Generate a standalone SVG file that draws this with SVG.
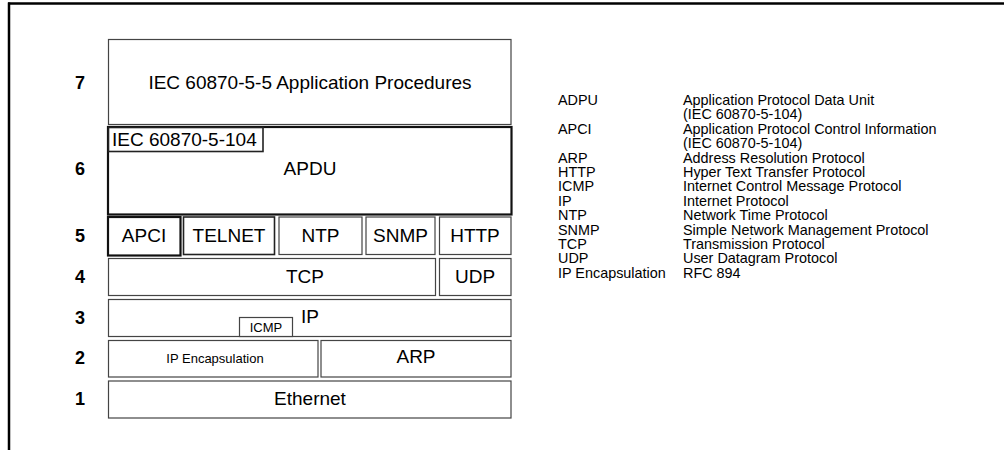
<svg xmlns="http://www.w3.org/2000/svg" width="1004" height="450" viewBox="0 0 1004 450">
<style>
text{font-family:"Liberation Sans",Arial,sans-serif;fill:#000}
.big{font-size:19px;text-anchor:middle}
.num{font-size:18px;font-weight:bold;text-anchor:middle}
.leg{font-size:14.4px}
.box{fill:#fff;stroke:#444;stroke-width:1.2}
.thick{fill:#fff;stroke:#111;stroke-width:2.2}
.mid{fill:#fff;stroke:#222;stroke-width:1.6}
</style>
<rect width="1004" height="450" fill="#fff"/>
<g id="frame">
<line x1="8" y1="3.5" x2="1004" y2="3.5" stroke="#000" stroke-width="2.5"/>
<line x1="9" y1="2.5" x2="9" y2="450" stroke="#000" stroke-width="2.5"/>
</g>
<g id="layer-numbers">
<text class="num" x="80" y="89">7</text>
<text class="num" x="80" y="175">6</text>
<text class="num" x="80" y="242">5</text>
<text class="num" x="80" y="283">4</text>
<text class="num" x="80" y="324">3</text>
<text class="num" x="80" y="364">2</text>
<text class="num" x="80" y="405">1</text>
</g>
<g id="app-procedures">
<rect class="box" x="108.5" y="39.5" width="402.5" height="85"/>
<text class="big" x="310" y="89">IEC 60870-5-5 Application Procedures</text>
</g>
<g id="apdu">
<rect class="thick" x="108" y="127" width="403.5" height="87.5"/>
<text class="big" x="310" y="175">APDU</text>
</g>
<g id="iec104">
<rect class="mid" x="108.5" y="127.5" width="154.5" height="24"/>
<text x="112" y="146" style="font-size:19px">IEC 60870-5-104</text>
</g>
<g id="apci">
<rect class="thick" x="108" y="217" width="72.5" height="38.5"/>
<text class="big" x="144" y="242">APCI</text>
</g>
<g id="telnet">
<rect class="mid" x="183.5" y="217" width="91" height="37.5"/>
<text class="big" x="229" y="242">TELNET</text>
</g>
<g id="ntp">
<rect class="box" x="279" y="217" width="83" height="37.5"/>
<text class="big" x="320.5" y="242">NTP</text>
</g>
<g id="snmp">
<rect class="box" x="366" y="217" width="69" height="37.5"/>
<text class="big" x="400.5" y="242">SNMP</text>
</g>
<g id="http">
<rect class="box" x="439.5" y="217" width="71.5" height="37.5"/>
<text class="big" x="475" y="242">HTTP</text>
</g>
<g id="tcp">
<rect class="box" x="108.5" y="258.5" width="327" height="37"/>
<text class="big" x="305" y="283">TCP</text>
</g>
<g id="udp">
<rect class="box" x="439.5" y="258.5" width="71.5" height="37"/>
<text class="big" x="475" y="283">UDP</text>
</g>
<g id="ip">
<rect class="box" x="108.5" y="299.5" width="402.5" height="37"/>
<text class="big" x="310" y="323">IP</text>
</g>
<g id="icmp">
<rect class="box" x="239.5" y="317.5" width="53" height="19"/>
<text x="266" y="332" style="font-size:13px;text-anchor:middle">ICMP</text>
</g>
<g id="ip-encapsulation">
<rect class="box" x="108.5" y="340.5" width="209.5" height="36.5"/>
<text x="215" y="363" style="font-size:13px;text-anchor:middle">IP Encapsulation</text>
</g>
<g id="arp">
<rect class="box" x="321" y="340.5" width="190" height="36.5"/>
<text class="big" x="416" y="363">ARP</text>
</g>
<g id="ethernet">
<rect class="box" x="108.5" y="381" width="402.5" height="37"/>
<text class="big" x="310" y="405">Ethernet</text>
</g>
<g id="connectors"></g>
<g id="legend">
<text class="leg" x="558" y="105">ADPU</text>
<text class="leg" x="683" y="105">Application Protocol Data Unit</text>
<text class="leg" x="683" y="119.4">(IEC 60870-5-104)</text>
<text class="leg" x="558" y="133.8">APCI</text>
<text class="leg" x="683" y="133.8">Application Protocol Control Information</text>
<text class="leg" x="683" y="148.2">(IEC 60870-5-104)</text>
<text class="leg" x="558" y="162.6">ARP</text>
<text class="leg" x="683" y="162.6">Address Resolution Protocol</text>
<text class="leg" x="558" y="177">HTTP</text>
<text class="leg" x="683" y="177">Hyper Text Transfer Protocol</text>
<text class="leg" x="558" y="191.4">ICMP</text>
<text class="leg" x="683" y="191.4">Internet Control Message Protocol</text>
<text class="leg" x="558" y="205.8">IP</text>
<text class="leg" x="683" y="205.8">Internet Protocol</text>
<text class="leg" x="558" y="220.2">NTP</text>
<text class="leg" x="683" y="220.2">Network Time Protocol</text>
<text class="leg" x="558" y="234.6">SNMP</text>
<text class="leg" x="683" y="234.6">Simple Network Management Protocol</text>
<text class="leg" x="558" y="249">TCP</text>
<text class="leg" x="683" y="249">Transmission Protocol</text>
<text class="leg" x="558" y="263.4">UDP</text>
<text class="leg" x="683" y="263.4">User Datagram Protocol</text>
<text class="leg" x="558" y="277.8">IP Encapsulation</text>
<text class="leg" x="683" y="277.8">RFC 894</text>
</g>
</svg>
